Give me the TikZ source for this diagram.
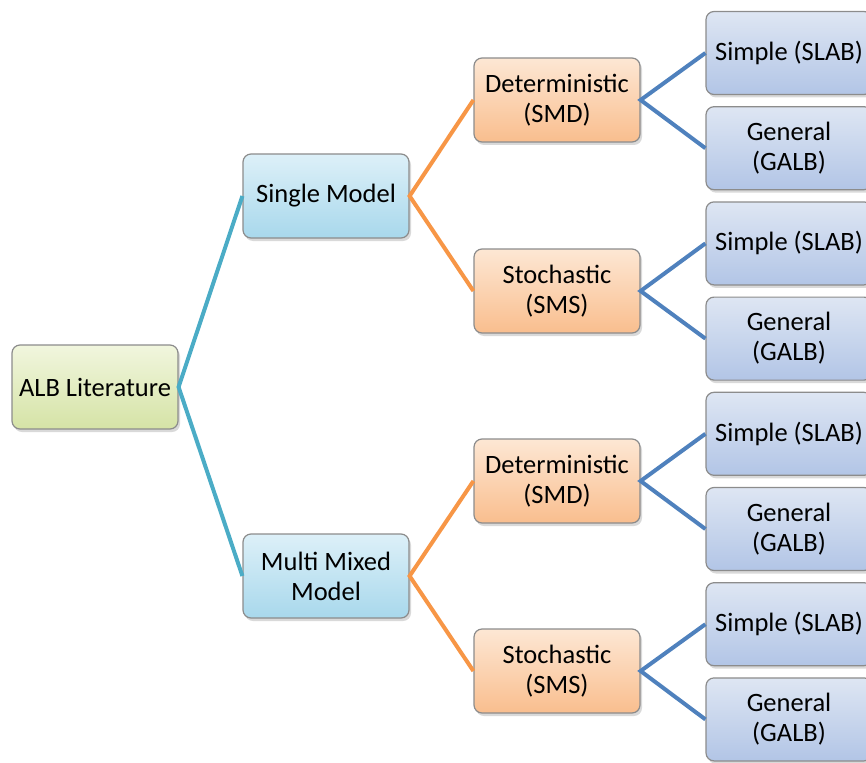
\documentclass[tikz,border=0pt]{standalone}
\usepackage{fontspec}
\setmainfont{Carlito}
\usepackage{tikz}
\usetikzlibrary{positioning,shadows}
\definecolor{tealline}{HTML}{4BACC6}
\definecolor{orangeline}{HTML}{F79646}
\definecolor{blueline}{HTML}{4F81BD}
\definecolor{greentop}{HTML}{F1F6DE}
\definecolor{greenbot}{HTML}{D5E3A6}
\definecolor{skytop}{HTML}{DDF0F8}
\definecolor{skybot}{HTML}{A8D8EC}
\definecolor{peachtop}{HTML}{FDE7D4}
\definecolor{peachbot}{HTML}{F9BE8E}
\definecolor{leaftop}{HTML}{DEE6F3}
\definecolor{leafbot}{HTML}{B2C5E6}

\begin{document}
\begin{tikzpicture}[
    x=1pt, y=-1pt,
    every node/.style={font=\fontsize{26.5}{30}\selectfont},
    tbox/.style={draw=black!45, line width=1.2pt, rounded corners=8pt,
        minimum width=166pt, minimum height=84pt, align=center,
        drop shadow={shadow xshift=2pt, shadow yshift=-3pt, opacity=0.3}},
    rootbox/.style={tbox, top color=greentop, bottom color=greenbot},
    modelbox/.style={tbox, top color=skytop, bottom color=skybot},
    typebox/.style={tbox, top color=peachtop, bottom color=peachbot},
    leafbox/.style={tbox, minimum height=83pt, top color=leaftop, bottom color=leafbot},
    teal link/.style={draw=tealline, line width=4pt},
    orange link/.style={draw=orangeline, line width=4pt},
    blue link/.style={draw=blueline, line width=4pt}
]
    \useasboundingbox (0,0) rectangle (866,762);

    % Root and model nodes
    \node [rootbox] (alb) at (95,387) {ALB Literature};
    \node [modelbox] (single) at (326,196) {Single Model};
    \node [modelbox] (multi) at (326,576) {Multi Mixed\\Model};

    % Deterministic / stochastic nodes
    \node [typebox] (detA) at (557,100) {Deterministic\\(SMD)};
    \node [typebox] (stoA) at (557,291) {Stochastic\\(SMS)};
    \node [typebox] (detB) at (557,481) {Deterministic\\(SMD)};
    \node [typebox] (stoB) at (557,671) {Stochastic\\(SMS)};

    % Leaves (vertical stack)
    \node [leafbox] (slabA) at (789,53) {Simple (SLAB)};
    \node [leafbox, below=11pt of slabA] (galbA) {General\\(GALB)};
    \node [leafbox, below=11pt of galbA] (slabB) {Simple (SLAB)};
    \node [leafbox, below=11pt of slabB] (galbB) {General\\(GALB)};
    \node [leafbox, below=11pt of galbB] (slabC) {Simple (SLAB)};
    \node [leafbox, below=11pt of slabC] (galbC) {General\\(GALB)};
    \node [leafbox, below=11pt of galbC] (slabD) {Simple (SLAB)};
    \node [leafbox, below=11pt of slabD] (galbD) {General\\(GALB)};

    % Links
    \draw [teal link] (single.west) -- (alb.east) -- (multi.west);
    \draw [orange link] (detA.west) -- (single.east) -- (stoA.west);
    \draw [orange link] (detB.west) -- (multi.east) -- (stoB.west);
    \draw [blue link] (slabA.west) -- (detA.east) -- (galbA.west);
    \draw [blue link] (slabB.west) -- (stoA.east) -- (galbB.west);
    \draw [blue link] (slabC.west) -- (detB.east) -- (galbC.west);
    \draw [blue link] (slabD.west) -- (stoB.east) -- (galbD.west);
\end{tikzpicture}
\end{document}
